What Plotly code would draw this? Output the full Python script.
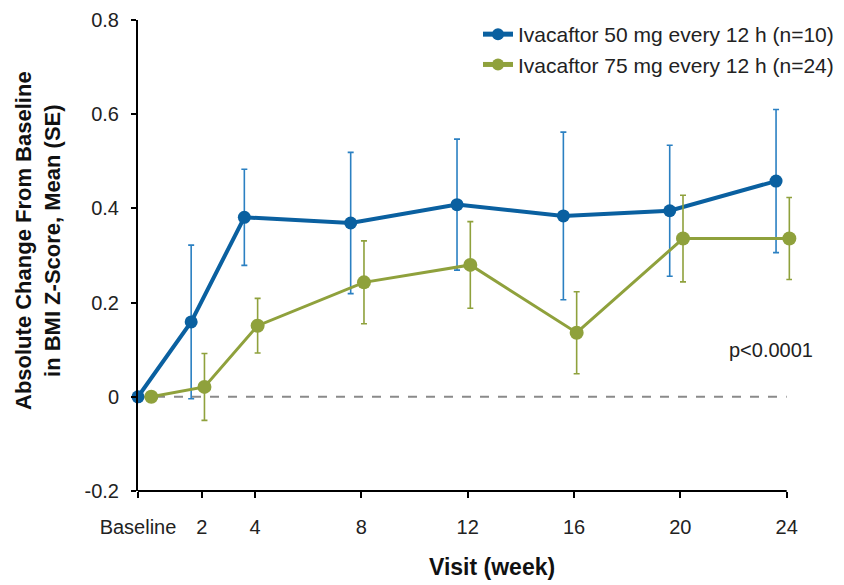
import plotly.graph_objects as go

# ---- data ----
visit_labels = ["Baseline", "2", "4", "8", "12", "16", "20", "24"]
weeks = [0, 2, 4, 8, 12, 16, 20, 24]

mean_50 = [0.0, 0.159, 0.381, 0.369, 0.408, 0.384, 0.395, 0.458]
se_50 = [0.0, 0.163, 0.102, 0.150, 0.139, 0.178, 0.139, 0.152]

mean_75 = [0.0, 0.021, 0.151, 0.243, 0.280, 0.136, 0.336, 0.336]
se_75 = [0.0, 0.071, 0.058, 0.088, 0.092, 0.087, 0.092, 0.087]

name_50 = "Ivacaftor 50 mg every 12 h (n=10)"
name_75 = "Ivacaftor 75 mg every 12 h (n=24)"
p_text = "p<0.0001"

# ---- styling ----
BLUE = "#0a60a0"
BLUE_ERR = "#2b80c2"
GREEN = "#8fa13c"
TXT = "#222222"
FONT = "Arial, Liberation Sans, sans-serif"
green_shift = 0.5   # horizontal dodge of second series (weeks)
tick_shift = 0.4
x_end = weeks[-1] + tick_shift   # end of drawn x axis line
x_max = 24.6        # plotting range (room for dodged last point)

x_50 = weeks
x_75 = [w + green_shift for w in weeks]
tickvals = [0] + [w + tick_shift for w in weeks[1:]]

# page offset of plotly div (body margin 8px)
OFF = 8
PL, PR, PT, PB = 138, 792, 20, 491   # plot area in page pixels
W, H = 844, 585

def px_x(px):
    return (px - PL) / (PR - PL)

def px_y(py):
    return (PB - py) / (PB - PT)

fig = go.Figure()
fig.add_trace(go.Scatter(
    x=x_50, y=mean_50, name=name_50, mode="lines+markers",
    line=dict(color=BLUE, width=4),
    marker=dict(color=BLUE, size=13),
    error_y=dict(type="data", array=se_50, visible=True, color=BLUE_ERR, thickness=1.6, width=3),
    cliponaxis=False, legendgroup="a",
))
fig.add_trace(go.Scatter(
    x=x_75, y=mean_75, name=name_75, mode="lines+markers",
    line=dict(color=GREEN, width=3),
    marker=dict(color=GREEN, size=14),
    error_y=dict(type="data", array=se_75, visible=True, color=GREEN, thickness=1.6, width=3),
    cliponaxis=False, legendgroup="b",
))

# dashed zero reference line
fig.add_shape(type="line", xref="x", x0=0, x1=x_end, yref="y", y0=0, y1=0,
              line=dict(color="#8a8a8a", width=2, dash="dash"), layer="below")
# x axis baseline (ends at last tick)
fig.add_shape(type="line", xref="x", x0=0, x1=x_end, yref="paper", y0=0, y1=0,
              line=dict(color="black", width=2), layer="above")

fig.update_layout(
    width=W, height=H,
    margin=dict(l=PL - OFF, r=W - (PR - OFF), t=PT - OFF, b=H - (PB - OFF), autoexpand=False),
    paper_bgcolor="white", plot_bgcolor="white",
    font=dict(family=FONT, size=20, color=TXT),
    showlegend=True,
    legend=dict(x=px_x(478), y=px_y(14), xanchor="left", yanchor="top",
                bgcolor="rgba(0,0,0,0)", font=dict(size=21, color=TXT),
                traceorder="grouped", tracegroupgap=0, itemwidth=30,
                itemsizing="constant"),
    xaxis=dict(range=[0, x_max], tickvals=tickvals, ticktext=visit_labels,
               showgrid=False, zeroline=False, showline=False, automargin=False,
               ticks="outside", ticklen=6, tickwidth=2, tickcolor="black",
               ticklabelstandoff=12, tickfont=dict(size=20, color=TXT)),
    yaxis=dict(range=[-0.2, 0.8], tickvals=[-0.2, 0, 0.2, 0.4, 0.6, 0.8],
               ticktext=["-0.2", "0", "0.2", "0.4", "0.6", "0.8"],
               showgrid=False, zeroline=False, showline=True, linecolor="black", linewidth=2,
               automargin=False,
               ticks="outside", ticklen=5, tickwidth=2, tickcolor="black",
               ticklabelstandoff=8, tickfont=dict(size=20, color=TXT)),
)

fig.add_annotation(text="<b>Visit (week)</b>", xref="paper", yref="paper",
                   x=px_x(492), y=px_y(567), xanchor="center", yanchor="middle",
                   showarrow=False, font=dict(size=23, color="#111111", family=FONT))
fig.add_annotation(text="<b>Absolute Change From Baseline<br>in BMI Z-Score, Mean (SE)</b>",
                   xref="paper", yref="paper", textangle=-90,
                   x=px_x(38), y=px_y(241), xanchor="center", yanchor="middle",
                   showarrow=False, font=dict(size=22, color="#111111", family=FONT))
fig.add_annotation(text=p_text, xref="paper", yref="paper", x=px_x(771), y=px_y(350),
                   xanchor="center", yanchor="middle", showarrow=False,
                   font=dict(size=20, color=TXT, family=FONT))

fig.write_html("out.html")
